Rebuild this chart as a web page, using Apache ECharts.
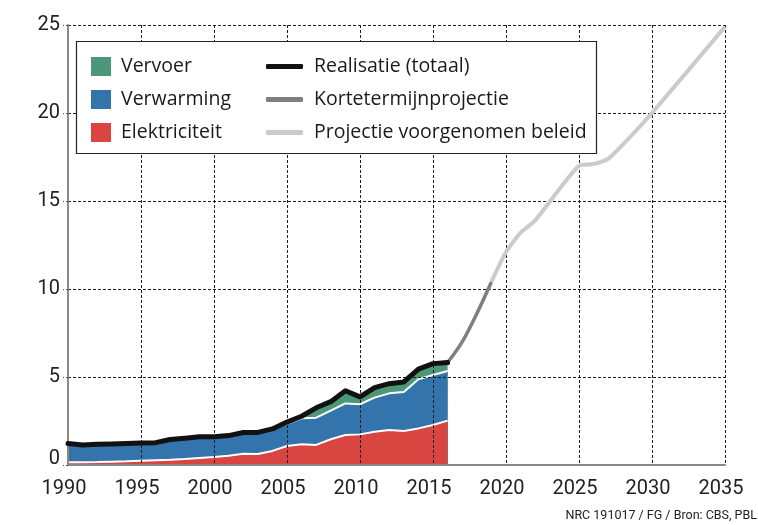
<!DOCTYPE html>
<html>
<head>
<meta charset="utf-8">
<script src="https://cdn.jsdelivr.net/npm/echarts@6/dist/echarts.min.js"></script>
<style>
  html, body { margin: 0; padding: 0; background: #fff; }
  #chart { width: 758px; height: 525px; }
</style>
</head>
<body>
<div id="chart"></div>
<script>
// realisatie per jaar
var years = [1990, 1991, 1992, 1993, 1994, 1995, 1996, 1997, 1998, 1999,
             2000, 2001, 2002, 2003, 2004, 2005, 2006, 2007, 2008, 2009,
             2010, 2011, 2012, 2013, 2014, 2015, 2016];
var elektriciteit = [0.15, 0.16, 0.17, 0.19, 0.21, 0.24, 0.27, 0.30, 0.34, 0.40,
                     0.45, 0.53, 0.64, 0.62, 0.80, 1.08, 1.18, 1.14, 1.46, 1.70,
                     1.74, 1.89, 1.99, 1.93, 2.08, 2.27, 2.52];
var verwarming = [1.07, 0.98, 1.01, 1.01, 1.01, 1.01, 1.00, 1.15, 1.18, 1.20,
                  1.15, 1.14, 1.21, 1.21, 1.22, 1.26, 1.47, 1.55, 1.63, 1.80,
                  1.71, 1.94, 2.08, 2.22, 2.79, 2.84, 2.82];
var vervoer = [0, 0, 0, 0, 0, 0, 0, 0, 0, 0,
               0, 0, 0, 0.02, 0.03, 0.10, 0.12, 0.56, 0.51, 0.72,
               0.42, 0.57, 0.55, 0.57, 0.58, 0.65, 0.48];

// projecties
var kortYears = [2016, 2017, 2018, 2019];
var kortValues = [5.82, 7.0, 8.6, 10.4];
var beleidYears = [2019, 2020, 2021, 2022, 2025, 2026, 2027, 2028, 2030, 2035];
var beleidValues = [10.4, 12.1, 13.2, 13.9, 17.0, 17.1, 17.4, 18.2, 20.0, 24.9];

var kleur = {
    vervoer: '#4b9778',
    verwarming: '#3474ad',
    elektriciteit: '#d94540',
    totaal: '#111111',
    kort: '#7f7f7f',
    beleid: '#cbcbcb'
};
var font = 'Roboto';
var legendFont = '"Open Sans"';

function pairs(xs, ys) {
    return xs.map(function(x, i) { return [x, ys[i]]; });
}

// gestapelde bovenkanten (waardeas op x stapelt niet goed, dus zelf optellen)
var topElek = elektriciteit.slice();
var topWarm = years.map(function(y, i) {
    return +(elektriciteit[i] + verwarming[i]).toFixed(2);
});
var totaal = years.map(function(y, i) {
    return +(topWarm[i] + vervoer[i]).toFixed(2);
});

var myChart = echarts.init(document.getElementById('chart'), null, { renderer: 'canvas' });

var dotted = { color: '#1a1a1a', width: 1, type: [3, 2] };
var legendText = { fontSize: 19.5, lineHeight: 20, color: '#1a1a1a', fontFamily: legendFont };

var option = {
    animation: false,
    backgroundColor: '#fff',
    grid: { left: 68, right: 33, top: 25, bottom: 60, containLabel: false },
    xAxis: {
        type: 'value',
        z: 2.5,
        min: 1990,
        max: 2035,
        interval: 5,
        axisLine: { show: true, lineStyle: { color: '#8c8880', width: 2 } },
        axisTick: { show: false },
        axisLabel: {
            color: '#222', fontSize: 20, fontFamily: font, margin: 14,
            padding: [0, 8, 0, 0],
            formatter: function(v) { return String(v); }
        },
        splitLine: { show: true, lineStyle: dotted }
    },
    yAxis: {
        type: 'value',
        z: 2.5,
        min: 0,
        max: 25,
        interval: 5,
        axisLine: { show: true, lineStyle: { color: '#8c8880', width: 2 } },
        axisTick: { show: true, length: 5, lineStyle: { color: '#555', type: [2, 2] } },
        axisLabel: {
            color: '#222', fontSize: 20, fontFamily: font, margin: 8,
            formatter: function(v) { return v === 0 ? '{nul|0}' : String(v); },
            rich: { nul: { fontSize: 20, fontFamily: font, color: '#222', padding: [0, 0, 12, 0] } }
        },
        splitLine: { show: true, lineStyle: dotted }
    },
    graphic: [{
        type: 'rect',
        z: 3,
        shape: { x: 76.5, y: 41.5, width: 520, height: 112 },
        style: { fill: '#fff', stroke: '#222', lineWidth: 1.2 }
    }, {
        type: 'text',
        right: 1,
        top: 509,
        style: {
            text: 'NRC 191017 / FG / Bron: CBS, PBL',
            fill: '#222',
            font: '12.5px ' + font
        }
    }],
    legend: [{
        left: 91,
        top: 56.5,
        padding: 0,
        orient: 'vertical',
        itemWidth: 20,
        itemHeight: 19,
        itemGap: 13,
        icon: 'rect',
        textStyle: echarts.util.extend({ padding: [0, 0, 0, 5] }, legendText),
        data: [
            { name: 'Vervoer', itemStyle: { color: kleur.vervoer, borderWidth: 0 } },
            { name: 'Verwarming', itemStyle: { color: kleur.verwarming, borderWidth: 0 } },
            { name: 'Elektriciteit', itemStyle: { color: kleur.elektriciteit, borderWidth: 0 } }
        ]
    }, {
        left: 266,
        top: 56.5,
        padding: 0,
        orient: 'vertical',
        itemWidth: 37,
        itemHeight: 5,
        itemGap: 13,
        icon: 'roundRect',
        textStyle: echarts.util.extend({ padding: [0, 0, 0, 6] }, legendText),
        data: [
            { name: 'Realisatie (totaal)', itemStyle: { color: kleur.totaal, borderWidth: 0 } },
            { name: 'Kortetermijnprojectie', itemStyle: { color: kleur.kort, borderWidth: 0 } },
            { name: 'Projectie voorgenomen beleid', itemStyle: { color: kleur.beleid, borderWidth: 0 } }
        ]
    }],
    series: [{
        name: 'Elektriciteit',
        type: 'line',
        z: 2.3,
        symbol: 'none',
        color: kleur.elektriciteit,
        lineStyle: { color: '#fff', width: 2 },
        areaStyle: { color: kleur.elektriciteit, opacity: 1 },
        data: pairs(years, topElek)
    }, {
        name: 'Verwarming',
        type: 'line',
        z: 2.2,
        symbol: 'none',
        color: kleur.verwarming,
        lineStyle: { color: '#fff', width: 2 },
        areaStyle: { color: kleur.verwarming, opacity: 1 },
        data: pairs(years, topWarm)
    }, {
        name: 'Vervoer',
        type: 'line',
        z: 2.1,
        symbol: 'none',
        color: kleur.vervoer,
        lineStyle: { width: 0 },
        areaStyle: { color: kleur.vervoer, opacity: 1 },
        data: pairs(years, totaal)
    }, {
        name: 'Realisatie (totaal)',
        type: 'line',
        z: 6,
        symbol: 'none',
        color: kleur.totaal,
        lineStyle: { color: kleur.totaal, width: 5, join: 'round', cap: 'round' },
        data: pairs(years, totaal)
    }, {
        name: 'Kortetermijnprojectie',
        type: 'line',
        z: 5,
        symbol: 'none',
        smooth: 0.3,
        color: kleur.kort,
        lineStyle: { color: kleur.kort, width: 3.5 },
        data: pairs(kortYears, kortValues)
    }, {
        name: 'Projectie voorgenomen beleid',
        type: 'line',
        z: 4,
        symbol: 'none',
        smooth: 0.2,
        color: kleur.beleid,
        lineStyle: { color: kleur.beleid, width: 4 },
        data: pairs(beleidYears, beleidValues)
    }]
};

myChart.setOption(option);
</script>
</body>
</html>
